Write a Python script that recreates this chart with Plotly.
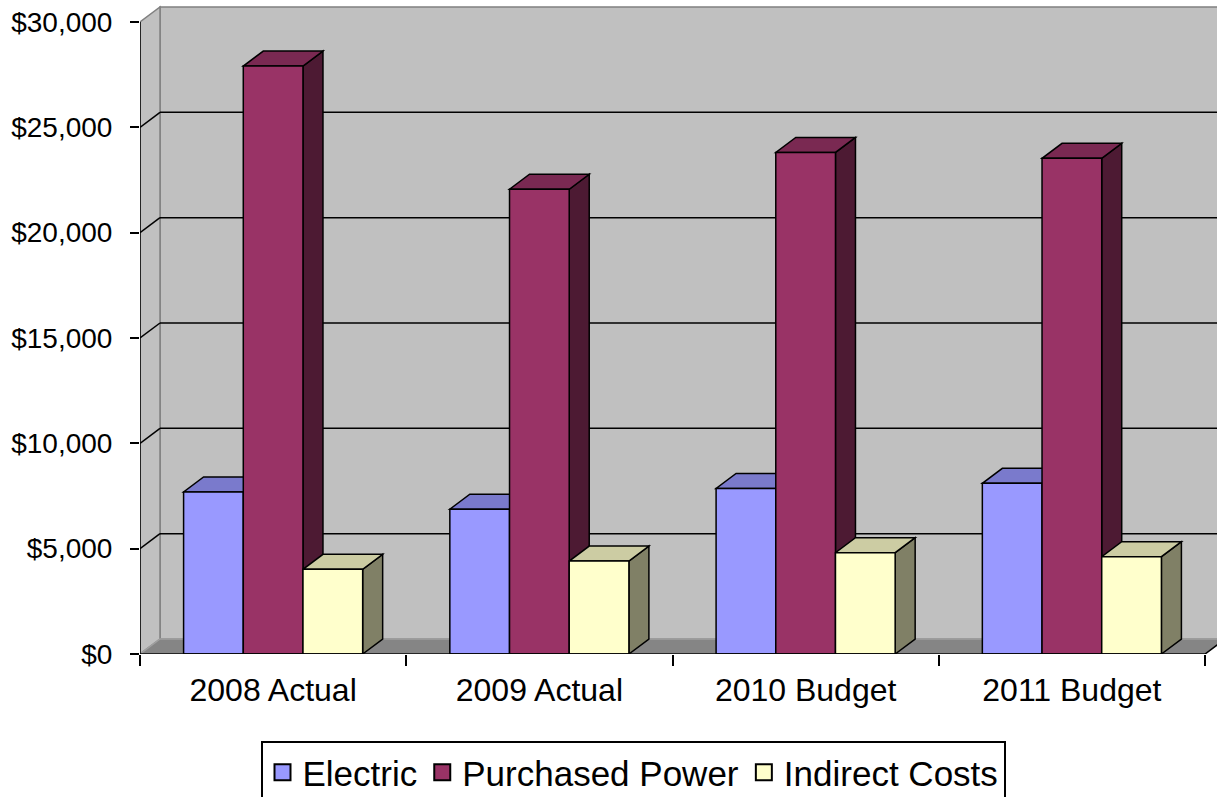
import plotly.graph_objects as go

# ---------------- data ----------------
categories = ["2008 Actual", "2009 Actual", "2010 Budget", "2011 Budget"]
series_names = ["Electric", "Purchased Power", "Indirect Costs"]
electric = [7690, 6870, 7860, 8100]
purchased_power = [27910, 22060, 23810, 23530]
indirect_costs = [4020, 4410, 4810, 4620]
y_tick_values = [0, 5000, 10000, 15000, 20000, 25000, 30000]
y_tick_labels = ["$0", "$5,000", "$10,000", "$15,000", "$20,000", "$25,000", "$30,000"]

series_values = [electric, purchased_power, indirect_costs]

# ---------------- styles ----------------
front_colors = ["#9999FF", "#993366", "#FFFFCC"]
top_colors = ["#7A7ACC", "#7A2952", "#CCCCA3"]
side_colors = ["#4D4D80", "#4D1A33", "#808066"]
wall_color = "#C0C0C0"
wall_edge = "#808080"
floor_color = "#858585"
FONT = "Liberation Sans, Arial, sans-serif"

# ---------------- geometry ----------------
W, H = 1217, 797
ML, MR, MT, MB = 140, 0, 5, 143
plot_w = W - ML - MR
plot_h = H - MT - MB
cat_px = 266.25                    # pixels per category
y_px = 632 / 30000.0               # pixels per dollar
dx = 20 / cat_px                   # depth offset in x units
dy = 15 / y_px                     # depth offset in y units
x_min = -0.5
x_max = x_min + plot_w / cat_px
y_max = plot_h / y_px
n = len(categories)
x_front_end = n - 0.5
bar_w = 0.2242
offsets = [-1.5 * bar_w, -0.5 * bar_w, 0.5 * bar_w]
xs = list(range(n))

fig = go.Figure()

shapes = []
# back wall
shapes.append(dict(type="rect", xref="x", yref="y", layer="below",
                   x0=x_min + dx, x1=x_front_end + dx, y0=dy, y1=y_tick_values[-1] + dy,
                   fillcolor=wall_color, line=dict(color=wall_edge, width=1.5)))
# side wall
shapes.append(dict(type="path", xref="x", yref="y", layer="below",
                   path=f"M{x_min},0 L{x_min},{y_tick_values[-1]} L{x_min+dx},{y_tick_values[-1]+dy} L{x_min+dx},{dy} Z",
                   fillcolor=wall_color, line=dict(color=wall_edge, width=1.5)))
# floor
shapes.append(dict(type="path", xref="x", yref="y", layer="below",
                   path=f"M{x_min},0 L{x_front_end},0 L{x_front_end+dx},{dy} L{x_min+dx},{dy} Z",
                   fillcolor=floor_color, line=dict(color="#A0A0A0", width=1.5)))
# gridlines (side wall + back wall)
for v in y_tick_values[1:-1]:
    shapes.append(dict(type="line", xref="x", yref="y", layer="below",
                       x0=x_min, y0=v, x1=x_min + dx, y1=v + dy,
                       line=dict(color="black", width=1.5)))
    shapes.append(dict(type="line", xref="x", yref="y", layer="below",
                       x0=x_min + dx, y0=v + dy, x1=x_front_end + dx, y1=v + dy,
                       line=dict(color="black", width=1.5)))
# 3D faces of bars (tops and sides)
for i in range(n):
    for s in range(len(series_values)):
        v = series_values[s][i]
        x0 = xs[i] + offsets[s]
        x1 = x0 + bar_w
        shapes.append(dict(type="path", xref="x", yref="y", layer="below",
                           path=f"M{x1},0 L{x1},{v} L{x1+dx},{v+dy} L{x1+dx},{dy} Z",
                           fillcolor=side_colors[s], line=dict(color="black", width=1.5)))
        shapes.append(dict(type="path", xref="x", yref="y", layer="below",
                           path=f"M{x0},{v} L{x1},{v} L{x1+dx},{v+dy} L{x0+dx},{v+dy} Z",
                           fillcolor=top_colors[s], line=dict(color="black", width=1.5)))
# axis lines
shapes.append(dict(type="line", xref="x", yref="y", layer="above",
                   x0=x_min, y0=0, x1=x_min, y1=y_tick_values[-1],
                   line=dict(color="black", width=1.5)))
shapes.append(dict(type="path", xref="x", yref="y", layer="above",
                   path=f"M{x_min},0 L{x_front_end},0 L{x_front_end+dx},{dy}",
                   line=dict(color="black", width=1.5)))

for s, name in enumerate(series_names):
    fig.add_trace(go.Bar(
        x=xs, y=series_values[s], name=name, showlegend=False,
        width=bar_w, offset=offsets[s],
        marker=dict(color=front_colors[s], line=dict(color="black", width=1.5)),
        hoverinfo="skip",
    ))
# legend entries (larger square swatches)
for s, name in enumerate(series_names):
    fig.add_trace(go.Scatter(
        x=[None], y=[None], name=name, mode="markers",
        marker=dict(symbol="square", size=16, color=front_colors[s],
                    line=dict(color="black", width=2)),
        hoverinfo="skip",
    ))

fig.update_layout(
    width=W, height=H,
    margin=dict(l=ML, r=MR, t=MT, b=MB, pad=0, autoexpand=False),
    paper_bgcolor="white", plot_bgcolor="white",
    barmode="overlay",
    showlegend=True,
    shapes=shapes,
    font=dict(family=FONT, color="black"),
    xaxis=dict(range=[x_min, x_max], tickmode="array", tickvals=xs, ticktext=categories,
               ticks="", showgrid=False, zeroline=False, showline=False,
               tickfont=dict(size=32, family=FONT, color="black"),
               ticklabelstandoff=14,
               minor=dict(tickmode="array", tickvals=[i - 0.5 for i in range(n + 1)],
                          ticks="outside", ticklen=11, tickwidth=1.5, tickcolor="black",
                          showgrid=False)),
    yaxis=dict(range=[0, y_max], tickmode="array", tickvals=y_tick_values, ticktext=y_tick_labels,
               ticks="outside", ticklen=9, tickwidth=1.5, tickcolor="black",
               showgrid=False, zeroline=False, showline=False,
               tickfont=dict(size=28, family=FONT, color="black"),
               ticklabelstandoff=12),
    legend=dict(orientation="h", x=(633 - ML) / plot_w, xanchor="center",
                y=(654 - 741) / plot_h, yanchor="top",
                bordercolor="black", borderwidth=2, bgcolor="white",
                font=dict(size=35, family=FONT, color="black"),
                itemwidth=30, tracegroupgap=0, itemsizing="trace"),
)

fig.write_html("out.html")
